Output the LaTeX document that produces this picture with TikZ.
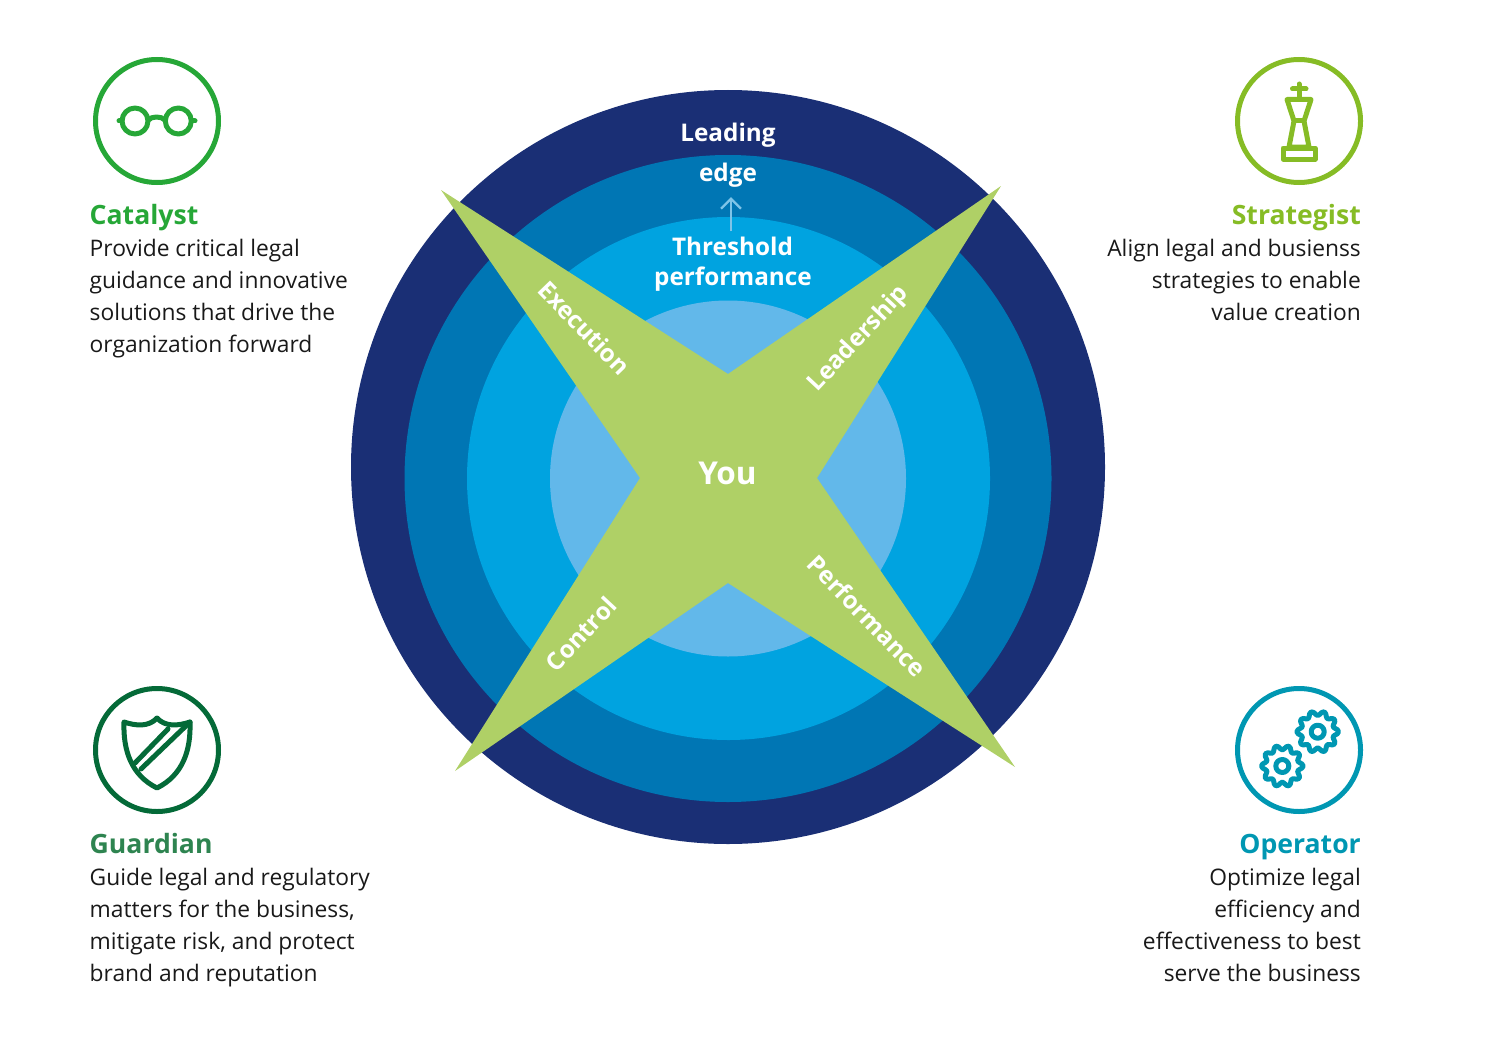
\documentclass[tikz,border=0pt]{standalone}
\usepackage{fontspec}
\usetikzlibrary{arrows.meta}
\setmainfont{Open Sans}
\definecolor{navy}{HTML}{1A2F75}
\definecolor{bandB}{HTML}{0076B4}
\definecolor{bandC}{HTML}{00A3E0}
\definecolor{bandD}{HTML}{62B8EA}
\definecolor{star}{HTML}{AFD066}
\definecolor{cat}{HTML}{26A737}
\definecolor{strat}{HTML}{86BC25}
\definecolor{guard}{HTML}{046A38}
\definecolor{guardT}{HTML}{2E8450}
\definecolor{oper}{HTML}{0097B2}
\definecolor{arrowc}{HTML}{7FC4E8}
\tikzset{
  body/.style={inner sep=0pt,font=\fontsize{22.8}{32}\selectfont,text=black!90},
  leftbody/.style={body,anchor=north west,align=left},
  rightbody/.style={body,anchor=north east,align=right},
  title/.style={inner sep=0pt,font=\fontsize{26.6}{32}\selectfont\bfseries},
  ring/.style={line width=5pt},
  icon/.style={line width=5pt,line join=round,line cap=round},
  wheel/.style={inner sep=0pt,text=white,font=\fontsize{24.3}{40}\selectfont\bfseries,align=center},
  arm/.style={inner sep=0pt,text=white,font=\fontsize{24.3}{30}\selectfont\bfseries},
}
\begin{document}
\begin{tikzpicture}[x=1pt,y=-1pt]
\useasboundingbox (0,0) rectangle (1498,1038);
% disc
\fill[navy] (728,467) circle[radius=377pt];
\fill[bandB] (728,478.5) circle[radius=323.5pt];
\fill[bandC] (728.5,478.5) circle[radius=261.5pt];
\fill[bandD] (728,478.5) circle[radius=178pt];
\fill[star] (441,190) -- (728,374) -- (1001,186) -- (817,478) -- (1015,767) -- (728,583) -- (455,771) -- (640,478) -- cycle;
% disc labels
\node[wheel,anchor=base] (leading) at (728,141) {Leading};
\node[wheel,anchor=base] (edge) at (728,181) {edge};
\node[wheel,anchor=base] (threshold) at (732.5,255) {Threshold};
\node[wheel,anchor=base] (perf) at (733,285) {performance};
\draw[arrowc,line width=2.4pt,-{Straight Barb[length=10pt,width=20pt]}] ([xshift=-1.5pt,yshift=5pt]threshold.north) -- ([xshift=3pt,yshift=-10pt]edge.south);
\node[inner sep=0pt,text=white,font=\fontsize{31.5}{36}\selectfont\bfseries] (you) at (727.5,473) {You};
\node[arm,rotate=-46] (execution) at (584.5,328) {Execution};
\node[arm,rotate=47] (leadership) at (859,339) {Leadership};
\node[arm,rotate=47] (control) at (581,634) {Control};
\node[arm,rotate=-46] (performance) at (867,616) {Performance};
% Catalyst
\draw[cat,ring] (157,121) circle[radius=61.5pt];
\begin{scope}[cat,icon]
\draw (135,121) circle[radius=13pt] (178.3,121) circle[radius=13pt];
\draw (148.5,120) .. controls (151,116) and (162,116) .. (164.8,120);
\draw (119,121) -- (122,121) (192,121) -- (195,121);
\end{scope}
\node[title,text=cat,anchor=base west] (catT) at (89.5,224) {Catalyst};
\node[leftbody] (catB) at (89.5,239) {Provide critical legal\\guidance and innovative\\solutions that drive the\\organization forward};
% Strategist
\draw[strat,ring] (1299,121) circle[radius=61.5pt];
\begin{scope}[strat,icon]
\draw (1299,84) -- (1299,98) (1292.5,89) -- (1306,89);
\draw (1287,99.5) -- (1311,99.5) -- (1304,121) -- (1309,147) -- (1289,147) -- (1294,121) -- cycle;
\draw (1294,121) -- (1304,121);
\draw (1283,148) rectangle (1315,159);
\end{scope}
\node[title,text=strat,anchor=base east] (stratT) at (1361,224) {Strategist};
\node[rightbody] (stratB) at (1361,239) {Align legal and busienss\\strategies to enable\\value creation};
% Guardian
\draw[guard,ring] (157,750) circle[radius=61.5pt];
\begin{scope}[guard,icon]
\draw (157,718) .. controls (149,727) and (136,726) .. (124,722) .. controls (123,750) and (131,775) .. (157,788) .. controls (183,775) and (191,750) .. (190,722) .. controls (178,726) and (165,727) .. cycle;
\draw (135,763) -- (168,729);
\draw (141,769) -- (190,722);
\end{scope}
\node[title,text=guardT,anchor=base west] (guardN) at (89.5,853) {Guardian};
\node[leftbody] (guardB) at (89.5,868) {Guide legal and regulatory\\matters for the business,\\mitigate risk, and protect\\brand and reputation};
% Operator
\draw[oper,ring] (1299,750) circle[radius=61.5pt];
\begin{scope}[oper,icon]
\draw plot[smooth cycle,samples=60,domain=0:354,variable=\t] ({1317.7+(18.5+2.4*cos(10*\t))*cos(\t)},{731.7+(18.5+2.4*cos(10*\t))*sin(\t)});
\draw plot[smooth cycle,samples=60,domain=0:354,variable=\t] ({1282.3+(18.5+2.4*cos(10*\t))*cos(\t)},{766+(18.5+2.4*cos(10*\t))*sin(\t)});
\draw (1317.7,731.7) circle[radius=6.5pt] (1282.3,766) circle[radius=6.5pt];
\end{scope}
\node[title,text=oper,anchor=base east] (operT) at (1361,853) {Operator};
\node[rightbody] (operB) at (1361,868) {Optimize legal\\efficiency and\\effectiveness to best\\serve the business};
\end{tikzpicture}
\end{document}
